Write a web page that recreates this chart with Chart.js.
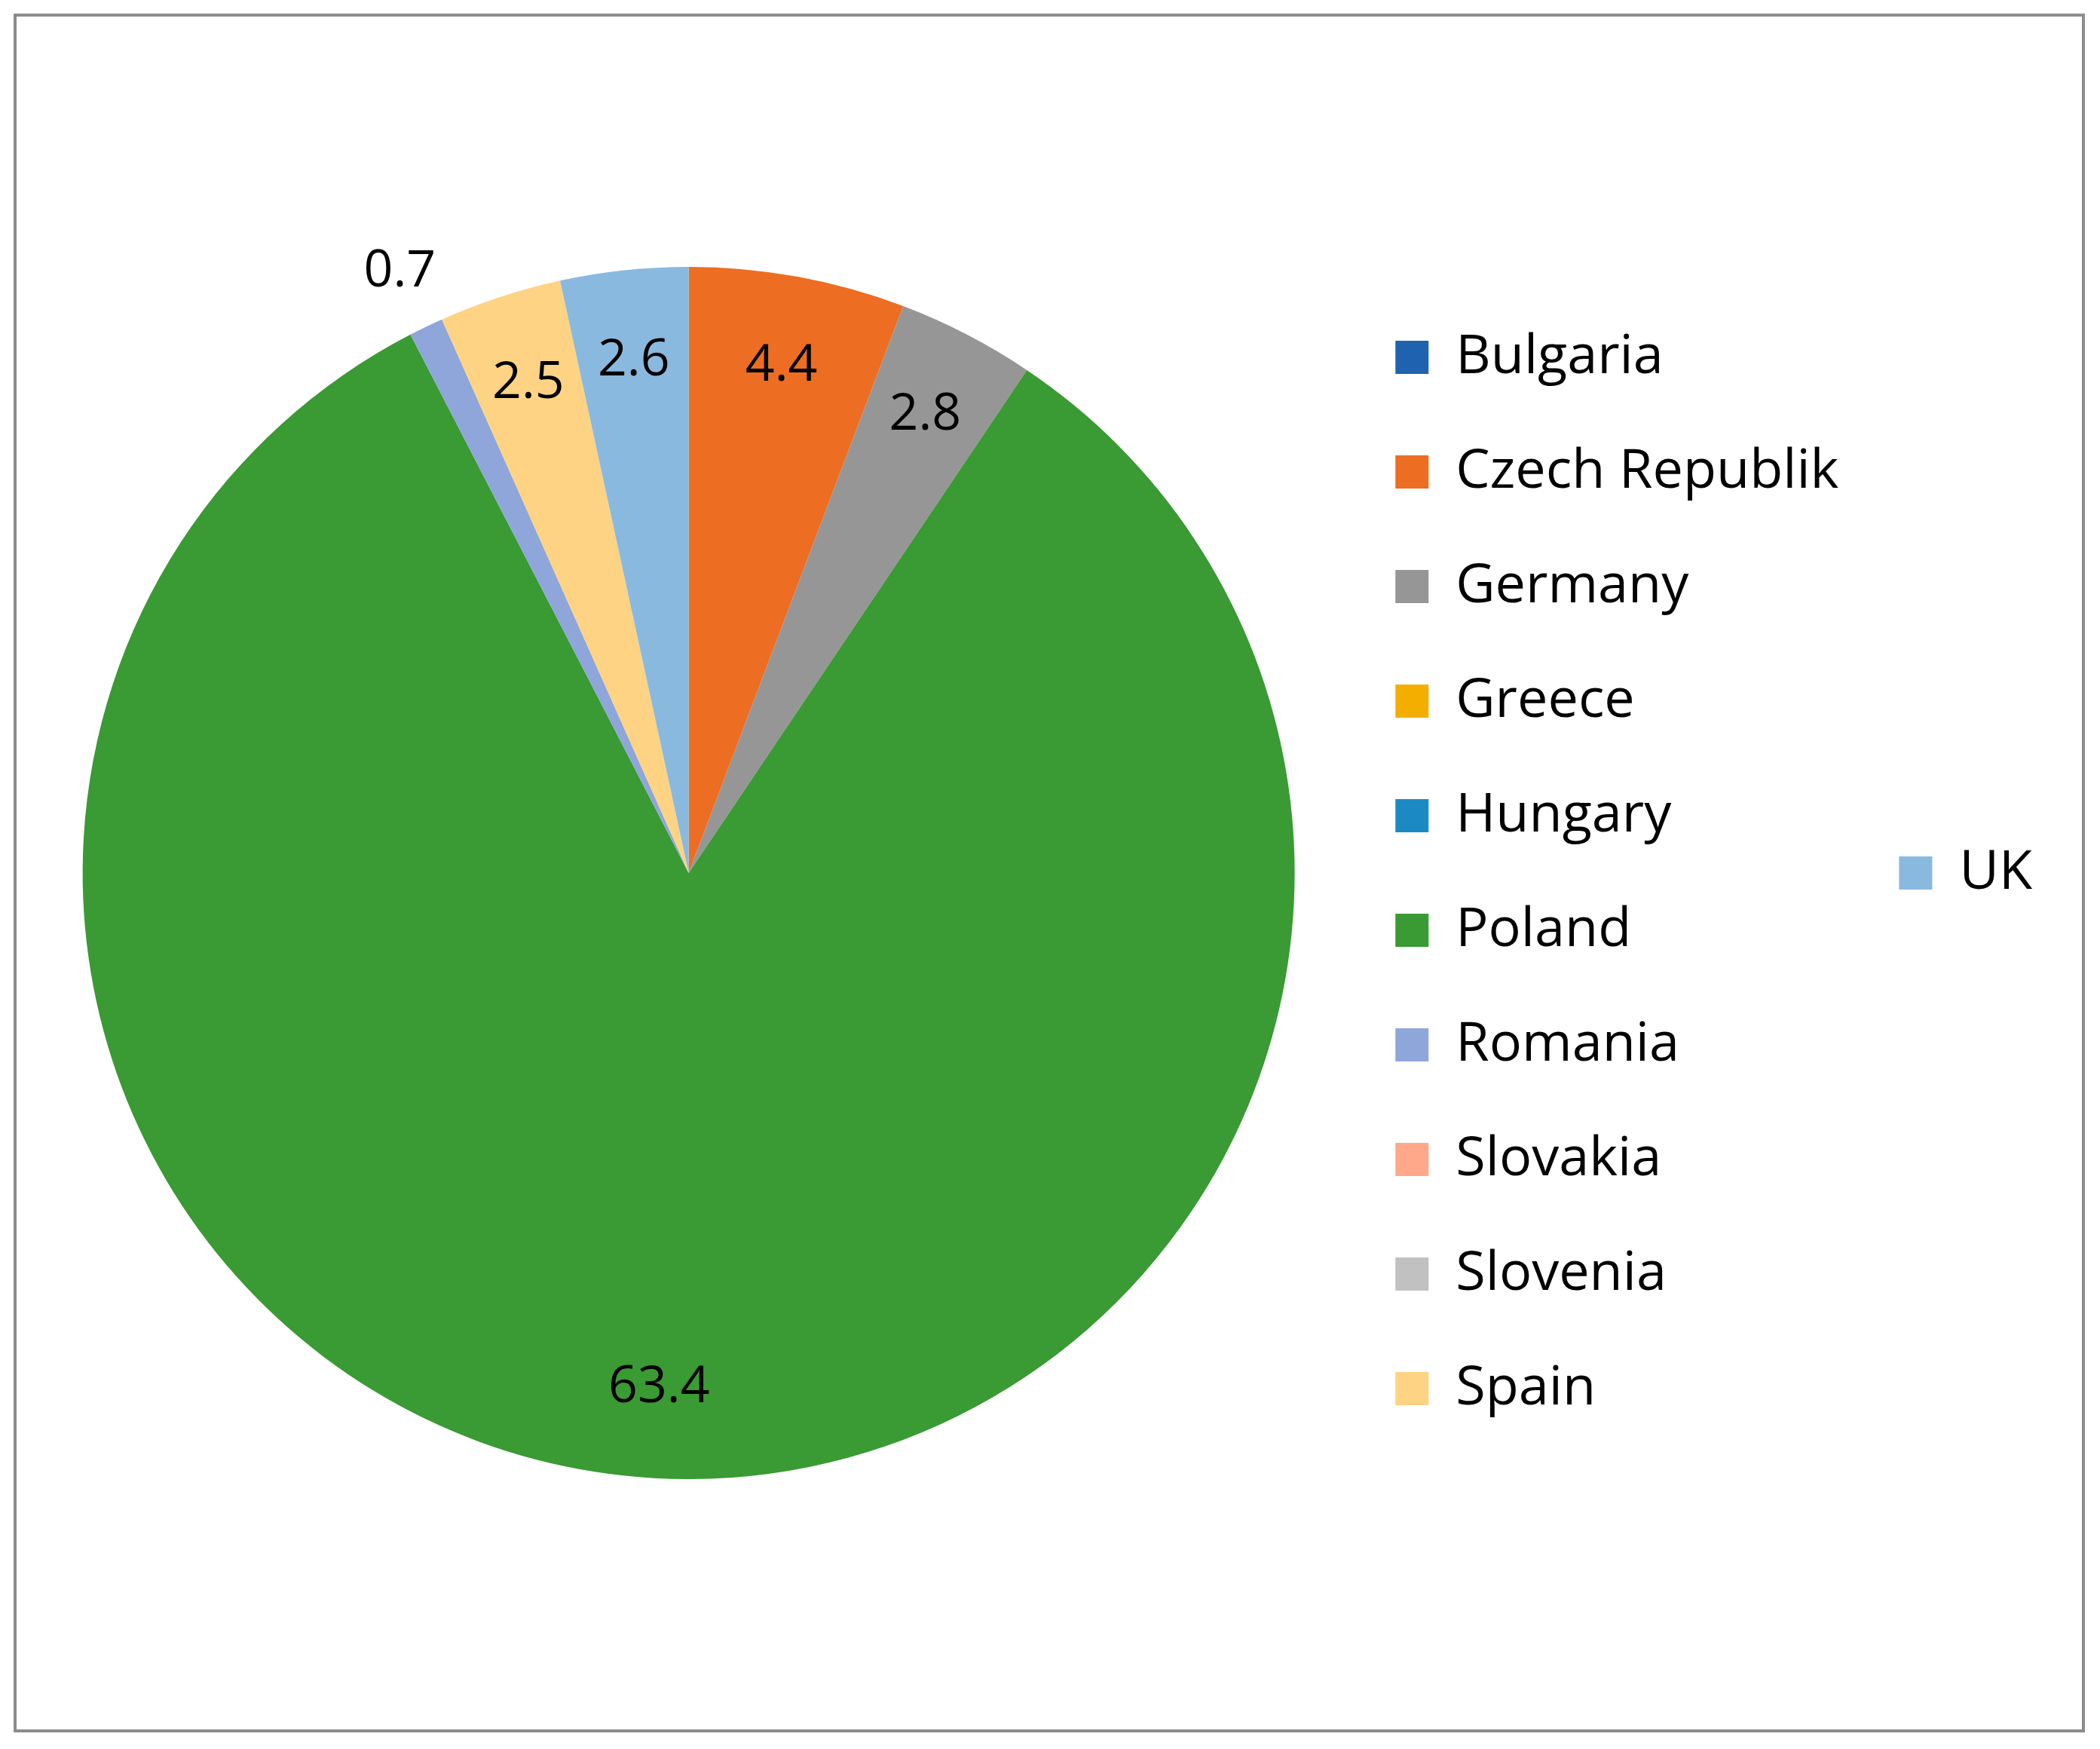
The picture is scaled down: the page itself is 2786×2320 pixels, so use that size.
<!DOCTYPE html>
<html>
<head>
<meta charset="utf-8">
<script src="https://cdn.jsdelivr.net/npm/chart.js@4"></script>
<style>
  html, body { margin: 0; padding: 0; background: #fff; }
  #wrap { position: absolute; left: 18px; top: 18px; width: 2748px; height: 2280px;
          border: 4px solid #8c8c8c; box-sizing: border-box; }
</style>
</head>
<body>
<div id="wrap"><canvas id="pie"></canvas></div>
<script>
// values
const countries = ['Bulgaria', 'Czech Republik', 'Germany', 'Greece', 'Hungary', 'Poland',
                   'Romania', 'Slovakia', 'Slovenia', 'Spain', 'UK'];
const shares = [0, 4.4, 2.8, 0, 0, 63.4, 0.7, 0, 0, 2.5, 2.6];
const colours = ['#1F63B0', '#ED6D22', '#969696', '#F4AE00', '#1B8AC4', '#3A9A33',
                 '#8FA6DA', '#FFA98A', '#C1C1C1', '#FFD384', '#8AB9E0'];

const FONT = "'Open Sans', 'Liberation Sans', sans-serif";

// draws the numbers on the slices
const sliceLabels = {
    id: 'sliceLabels',
    afterDatasetsDraw(chart) {
        const ctx = chart.ctx;
        const arcs = chart.getDatasetMeta(0).data;
        ctx.save();
        ctx.font = '68px ' + FONT;
        ctx.fillStyle = '#000';
        ctx.textAlign = 'center';
        ctx.textBaseline = 'middle';
        arcs.forEach((arc, i) => {
            const v = shares[i];
            if (!v) return;
            const mid = (arc.startAngle + arc.endAngle) / 2;
            const f = v < 1 ? 1.1 : 0.85;
            const r = arc.outerRadius * f;
            ctx.fillText(v.toFixed(1), arc.x + Math.cos(mid) * r, arc.y + Math.sin(mid) * r);
        });
        ctx.restore();
    }
};

new Chart(document.getElementById('pie'), {
    type: 'pie',
    data: {
        labels: countries,
        datasets: [{ data: shares, backgroundColor: colours, borderWidth: 0 }]
    },
    options: {
        responsive: true,
        maintainAspectRatio: false,
        animation: false,
        layout: { padding: { left: 34, top: 332, bottom: 332, right: 56 } },
        plugins: {
            tooltip: { enabled: false },
            legend: {
                position: 'right',
                align: 'center',
                labels: {
                    font: { size: 72, family: FONT },
                    color: '#000',
                    boxWidth: 44,
                    boxHeight: 44,
                    padding: 80
                }
            }
        }
    },
    plugins: [sliceLabels]
});
</script>
</body>
</html>
